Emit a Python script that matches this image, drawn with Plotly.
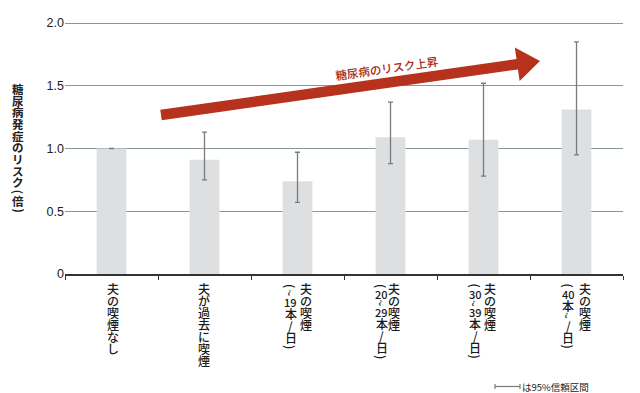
import math
import plotly.graph_objects as go

# ---- data ----
categories = ["夫の喫煙なし", "夫が過去に喫煙", "夫の喫煙(~19本/日)",
              "夫の喫煙(20~29本/日)", "夫の喫煙(30~39本/日)", "夫の喫煙(40本~/日)"]
risk = [1.00, 0.91, 0.74, 1.09, 1.07, 1.31]
ci_upper = [float("nan"), 1.13, 0.97, 1.37, 1.52, 1.85]
ci_lower = [float("nan"), 0.75, 0.57, 0.88, 0.78, 0.95]
y_ticks = [0, 0.5, 1.0, 1.5, 2.0]
y_tick_labels = ["0", "0.5", "1.0", "1.5", "2.0"]
y_title = ["糖", "尿", "病", "発", "症", "の", "リ", "ス", "ク", "(", "倍", ")"]
# vertical label columns: (right column, left column)
label_cols = [
    [["夫", "の", "喫", "煙", "な", "し"]],
    [["夫", "が", "過", "去", "に", "喫", "煙"]],
    [["夫", "の", "喫", "煙"], ["(", "~", "19", "本", "/", "日", ")"]],
    [["夫", "の", "喫", "煙"], ["(", "20", "~", "29", "本", "/", "日", ")"]],
    [["夫", "の", "喫", "煙"], ["(", "30", "~", "39", "本", "/", "日", ")"]],
    [["夫", "の", "喫", "煙"], ["(", "40", "本", "~", "/", "日", ")"]],
]
arrow_text = "糖尿病のリスク上昇"
legend_text = "は95%信頼区間"

# ---- layout geometry (pixels) ----
W, H = 640, 393
L, R, T, B = 65, 17, 18, 119
PW, PH = W - L - R, H - T - B
def px(X): return (X - L) / PW
def py(Y): return (H - B - Y) / PH

FONT = "Noto Sans CJK JP"
err_plus = [u - v if not math.isnan(u) else float("nan") for u, v in zip(ci_upper, risk)]
err_minus = [v - l if not math.isnan(l) else float("nan") for l, v in zip(ci_lower, risk)]

fig = go.Figure()
fig.add_trace(go.Bar(
    x=categories, y=risk, width=0.32,
    marker=dict(color="#dedfe1", line=dict(width=0)),
    error_y=dict(type="data", symmetric=False, array=err_plus, arrayminus=err_minus,
                 color="#7a7a7a", thickness=1.3, width=2.5),
    hoverinfo="skip",
))

annotations = []
# y-axis title as vertical stacked characters
yy = 83
for ch in y_title:
    h = 7 if ch in "()" else 11.7
    annotations.append(dict(text=ch, xref="paper", yref="paper", x=px(18), y=py(yy + h / 2),
                            xanchor="center", yanchor="middle", showarrow=False,
                            textangle=90 if ch in "()" else 0,
                            font=dict(family=FONT, size=11.5, color="#222", weight="bold"),
                            ))
    yy += h

# x labels (vertical)
col_shifts = [[1], [-1], [8, -7], [3, -9], [6, -8.5], [8.5, -8.5]]
for cat, cols, shifts in zip(categories, label_cols, col_shifts):
    for tokens, xs in zip(cols, shifts):
        yy = 282
        for tok in tokens:
            if tok in "()":
                h = 7
            elif tok == "~":
                h = 8
            elif tok.isdigit():
                h = 10
            else:
                h = 12
            annotations.append(dict(text=tok, xref="x", yref="paper", x=cat, xshift=xs,
                                    y=py(yy + h / 2), xanchor="center", yanchor="middle",
                                    showarrow=False, textangle=90 if tok in "()~" else 0,
                                    font=dict(family=FONT, size=12 if not tok.isdigit() else 11,
                                              color="#1a1a1a", weight=500)))
            yy += h

# arrow
tx, ty = 161, 115
hx, hy = 540, 61
dx, dy = hx - tx, hy - ty
ln = math.hypot(dx, dy)
ux, uy = dx / ln, dy / ln
nx, ny = -uy, ux
hw, hhw, hl = 5.2, 17, 23
bx, by = hx - ux * hl, hy - uy * hl
pts = [(tx + nx * hw, ty + ny * hw), (bx + nx * hw, by + ny * hw), (bx + nx * hhw, by + ny * hhw),
       (hx, hy), (bx - nx * hhw, by - ny * hhw), (bx - nx * hw, by - ny * hw), (tx - nx * hw, ty - ny * hw)]
path = "M " + " L ".join(f"{px(X):.5f},{py(Y):.5f}" for X, Y in pts) + " Z"
shapes = [dict(type="path", path=path, xref="paper", yref="paper",
               fillcolor="#b7321c", line=dict(width=0), layer="above")]
ang = math.degrees(math.atan2(dy, dx))
annotations.append(dict(text=arrow_text, xref="paper", yref="paper", x=px(387), y=py(68),
                        xanchor="center", yanchor="middle", showarrow=False, textangle=ang,
                        font=dict(family=FONT, size=11.5, color="#a52a14", weight=500)))

# CI legend
ly = 386.5
shapes += [
    dict(type="line", xref="paper", yref="paper", x0=px(495), x1=px(520), y0=py(ly), y1=py(ly),
         line=dict(color="#7a7a7a", width=1.2)),
    dict(type="line", xref="paper", yref="paper", x0=px(495), x1=px(495), y0=py(ly - 2.5), y1=py(ly + 2.5),
         line=dict(color="#7a7a7a", width=1.2)),
    dict(type="line", xref="paper", yref="paper", x0=px(520), x1=px(520), y0=py(ly - 2.5), y1=py(ly + 2.5),
         line=dict(color="#7a7a7a", width=1.2)),
]
annotations.append(dict(text=legend_text, xref="paper", yref="paper", x=px(520), y=py(ly),
                        xanchor="left", yanchor="middle", showarrow=False,
                        font=dict(family=FONT, size=9.5, color="#222")))

fig.update_layout(
    width=W, height=H, margin=dict(l=L, r=R, t=T, b=B),
    paper_bgcolor="white", plot_bgcolor="white", showlegend=False,
    xaxis=dict(type="category", showticklabels=False, showline=True, linecolor="#333",
               linewidth=1.5, ticks="outside", tickson="boundaries", ticklen=4,
               tickcolor="#333", tickwidth=1, showgrid=False, range=[-0.5, 5.5]),
    yaxis=dict(range=[0, 2.04], tickvals=y_ticks, ticktext=y_tick_labels, showgrid=True,
               gridcolor="#8a9797", gridwidth=1.3, zeroline=False, showline=False, ticks="",
               tickfont=dict(family="Liberation Sans", size=12.5, color="#222")),
    shapes=shapes, annotations=annotations,
)
fig.write_html("out.html", config={"displayModeBar": False},
               post_script="document.body.style.margin='0';document.body.style.overflow='hidden';")
